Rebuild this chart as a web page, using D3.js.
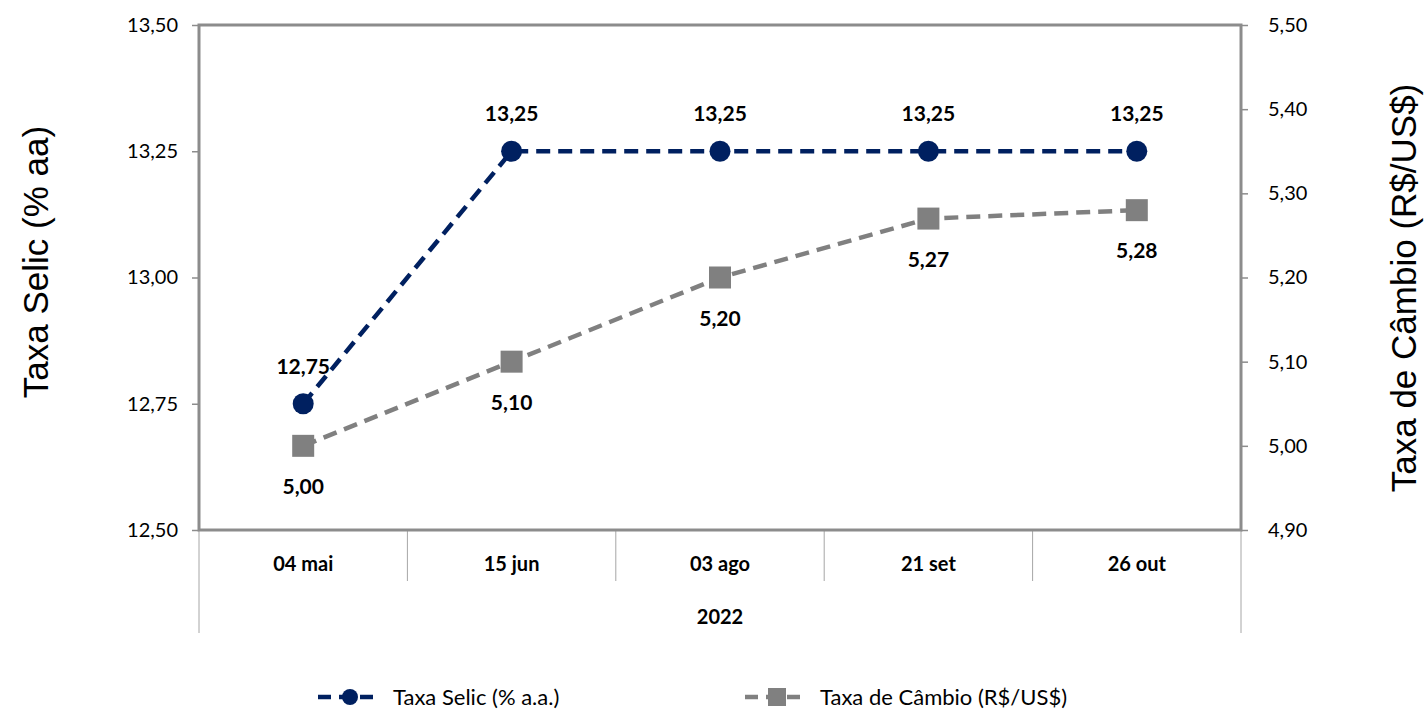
<!DOCTYPE html>
<html>
<head>
<meta charset="utf-8">
<script src="https://cdn.jsdelivr.net/npm/d3@7"></script>
<style>
  body { margin: 0; background: #fff; }
  svg { display: block; }
</style>
</head>
<body>
<div id="chart"></div>
<script>
// data
var categories = ["04 mai", "15 jun", "03 ago", "21 set", "26 out"];
var yearLabel = "2022";
var selic = [12.75, 13.25, 13.25, 13.25, 13.25];
var cambio = [5.00, 5.10, 5.20, 5.27, 5.28];
var selicTicks = [12.50, 12.75, 13.00, 13.25, 13.50];
var cambioTicks = [4.90, 5.00, 5.10, 5.20, 5.30, 5.40, 5.50];

var w = 1425, h = 710;
// plot box (window.top is reserved, so pTop etc.)
var pLeft = 199, pRight = 1241, pTop = 25, pBottom = 530;
var navy = "#002060", grey = "#808080", frame = "#8c8c8c";
var font = "Lato, 'Open Sans', sans-serif";

var fmt2 = function(v){ return v.toFixed(2).replace(".", ","); };

var svg = d3.select("#chart")
  .append("svg")
  .attr("width", w)
  .attr("height", h);

var x = d3.scaleBand().domain(categories).range([pLeft, pRight]);
var yL = d3.scaleLinear().domain([12.5, 13.5]).range([pBottom, pTop]);
var yR = d3.scaleLinear().domain([4.9, 5.5]).range([pBottom, pTop]);

// category axis box lines below the plot
var catG = svg.append("g");
catG.selectAll("line.div")
  .data(categories.slice(1))
  .enter()
  .append("line")
  .attr("x1", function(d){ return x(d); })
  .attr("x2", function(d){ return x(d); })
  .attr("y1", pBottom)
  .attr("y2", 581)
  .attr("stroke", "#a6a6a6")
  .attr("stroke-width", 1);
[pLeft, pRight].forEach(function(xx){
  catG.append("line")
    .attr("x1", xx).attr("x2", xx)
    .attr("y1", pBottom).attr("y2", 633)
    .attr("stroke", "#a6a6a6")
    .attr("stroke-width", 1);
});
catG.selectAll("text.cat")
  .data(categories)
  .enter()
  .append("text")
  .attr("x", function(d){ return x(d) + x.bandwidth() / 2; })
  .attr("y", 571)
  .attr("text-anchor", "middle")
  .attr("font-family", font)
  .attr("font-weight", "bold")
  .attr("font-size", "20px")
  .text(function(d){ return d; });
catG.append("text")
  .attr("x", (pLeft + pRight) / 2)
  .attr("y", 624)
  .attr("text-anchor", "middle")
  .attr("font-family", font)
  .attr("font-weight", "bold")
  .attr("font-size", "20px")
  .text(yearLabel);

// axes
var axL = d3.axisLeft(yL).tickValues(selicTicks).tickSize(7).tickPadding(14).tickFormat(fmt2);
var axR = d3.axisRight(yR).tickValues(cambioTicks).tickSize(7).tickPadding(20).tickFormat(fmt2);

var gL = svg.append("g").attr("transform", "translate(" + pLeft + ",0)").call(axL);
var gR = svg.append("g").attr("transform", "translate(" + pRight + ",0)").call(axR);
[gL, gR].forEach(function(g){
  g.select(".domain").remove();
  g.selectAll(".tick line").attr("stroke", frame).attr("stroke-width", 1.5);
  g.selectAll(".tick text")
    .attr("font-family", font)
    .attr("font-size", "20px")
    .attr("fill", "#000");
});

// plot frame
svg.append("rect")
  .attr("x", pLeft)
  .attr("y", pTop)
  .attr("width", pRight - pLeft)
  .attr("height", pBottom - pTop)
  .attr("fill", "none")
  .attr("stroke", frame)
  .attr("stroke-width", 3);

// axis titles
svg.append("text")
  .attr("transform", "translate(48,262) rotate(-90)")
  .attr("text-anchor", "middle")
  .attr("font-family", "'Liberation Sans', Arial, sans-serif")
  .attr("font-size", "35px")
  .text("Taxa Selic (% aa)");
svg.append("text")
  .attr("transform", "translate(1416,288) rotate(-90)")
  .attr("text-anchor", "middle")
  .attr("font-family", "'Liberation Sans', Arial, sans-serif")
  .attr("font-size", "35px")
  .text("Taxa de Câmbio (R$/US$)");

var cx = function(d, i){ return x(categories[i]) + x.bandwidth() / 2; };

// Câmbio series
var lineR = d3.line().x(cx).y(function(d){ return yR(d); });
svg.append("path")
  .datum(cambio)
  .attr("d", lineR)
  .attr("fill", "none")
  .attr("stroke", grey)
  .attr("stroke-width", 4.5)
  .attr("stroke-dasharray", "14,8");
svg.selectAll("rect.cam")
  .data(cambio)
  .enter()
  .append("rect")
  .attr("class", "cam")
  .attr("x", function(d, i){ return cx(d, i) - 11; })
  .attr("y", function(d){ return yR(d) - 11; })
  .attr("width", 22)
  .attr("height", 22)
  .attr("fill", grey);
svg.selectAll("text.cam")
  .data(cambio)
  .enter()
  .append("text")
  .attr("class", "cam")
  .attr("x", cx)
  .attr("y", function(d){ return yR(d) + 48; })
  .attr("text-anchor", "middle")
  .attr("font-family", font)
  .attr("font-weight", "bold")
  .attr("font-size", "21px")
  .text(fmt2);

// Selic series
var lineL = d3.line().x(cx).y(function(d){ return yL(d); });
svg.append("path")
  .datum(selic)
  .attr("d", lineL)
  .attr("fill", "none")
  .attr("stroke", navy)
  .attr("stroke-width", 4.5)
  .attr("stroke-dasharray", "14,8");
svg.selectAll("circle.sel")
  .data(selic)
  .enter()
  .append("circle")
  .attr("class", "sel")
  .attr("cx", cx)
  .attr("cy", function(d){ return yL(d); })
  .attr("r", 10.5)
  .attr("fill", navy);
svg.selectAll("text.sel")
  .data(selic)
  .enter()
  .append("text")
  .attr("class", "sel")
  .attr("x", cx)
  .attr("y", function(d){ return yL(d) - 30; })
  .attr("text-anchor", "middle")
  .attr("font-family", font)
  .attr("font-weight", "bold")
  .attr("font-size", "21px")
  .text(fmt2);

// legend
var legend = [
  {name: "Taxa Selic (% a.a.)", color: navy, shape: "circle", x: 318},
  {name: "Taxa de Câmbio (R$/US$)", color: grey, shape: "square", x: 745}
];
var lg = svg.selectAll("g.leg")
  .data(legend)
  .enter()
  .append("g")
  .attr("class", "leg")
  .attr("transform", function(d){ return "translate(" + d.x + ",697)"; });
lg.append("line")
  .attr("x1", 0).attr("x2", 62)
  .attr("y1", 0).attr("y2", 0)
  .attr("stroke", function(d){ return d.color; })
  .attr("stroke-width", 4.5)
  .attr("stroke-dasharray", "13,8");
lg.each(function(d){
  var g = d3.select(this);
  if (d.shape == "circle") {
    g.append("circle").attr("cx", 32).attr("cy", 0).attr("r", 8).attr("fill", d.color);
  } else {
    g.append("rect").attr("x", 23).attr("y", -9).attr("width", 18).attr("height", 18).attr("fill", d.color);
  }
});
lg.append("text")
  .attr("x", 75)
  .attr("y", 8)
  .attr("font-family", font)
  .attr("font-size", "22px")
  .text(function(d){ return d.name; });
</script>
</body>
</html>
